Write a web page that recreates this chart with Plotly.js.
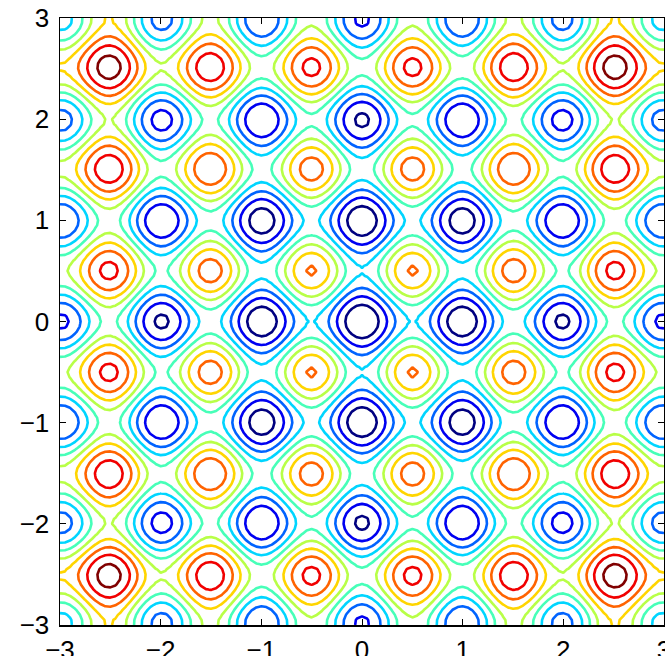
<!DOCTYPE html>
<html>
<head>
<meta charset="utf-8">
<script src="https://cdn.plot.ly/plotly-3.0.1.min.js"></script>
<style>
html,body{margin:0;padding:0;background:#fff;}
#chart{width:665px;height:656px;}
</style>
</head>
<body>
<div id="chart"></div>
<script>
// Grid: starts at -3, step 0.05 along both axes (121 samples)
var gridStart = -3, gridStep = 0.05;
// Separable surface: value contributed by each axis at those samples (t = -3 ... 3)
var axisProfile = [
  9.000,9.192,10.320,12.245,14.750,17.563,20.380,22.900,24.850,26.013,
  26.250,25.513,23.850,21.400,18.380,15.063,11.750,8.745,6.320,4.692,
  4.000,4.292,5.520,7.545,10.150,13.063,15.980,18.600,20.650,21.913,
  22.250,21.613,20.050,17.700,14.780,11.563,8.350,5.445,3.120,1.592,
  1.000,1.392,2.720,4.845,7.550,10.563,13.580,16.300,18.450,19.813,
  20.250,19.713,18.250,16.000,13.180,10.063,6.950,4.145,1.920,0.492,
  0.000,
  0.492,1.920,4.145,6.950,10.063,13.180,16.000,18.250,19.713,20.250,
  19.813,18.450,16.300,13.580,10.563,7.550,4.845,2.720,1.392,1.000,
  1.592,3.120,5.445,8.350,11.563,14.780,17.700,20.050,21.613,22.250,
  21.913,20.650,18.600,15.980,13.063,10.150,7.545,5.520,4.292,4.000,
  4.692,6.320,8.745,11.750,15.063,18.380,21.400,23.850,25.513,26.250,
  26.013,24.850,22.900,20.380,17.563,14.750,12.245,10.320,9.192,9.000
];
var levelStart = 5, levelEnd = 50, levelStep = 5;
var tickVals = [-3,-2,-1,0,1,2,3];
var tickText = ['\u22123','\u22122','\u22121','0','1','2','3'];

// build table z[row=y][col=x]
var z = axisProfile.map(function(py){ return axisProfile.map(function(px){ return px + py; }); });

var jet = [
  [0,'rgb(0,0,128)'],[0.125,'rgb(0,0,255)'],[0.375,'rgb(0,255,255)'],
  [0.625,'rgb(255,255,0)'],[0.875,'rgb(255,0,0)'],[1,'rgb(128,0,0)']
];

var trace = {
  type:'contour', x0:gridStart, dx:gridStep, y0:gridStart, dy:gridStep, z:z,
  zauto:false, zmin:levelStart, zmax:levelEnd,
  autocontour:false,
  contours:{coloring:'lines', start:levelStart, end:levelEnd, size:levelStep, showlabels:false},
  line:{width:2.6, smoothing:0},
  colorscale:jet, showscale:false, hoverinfo:'skip'
};

var axisCommon = {
  range:[-3,3], tickmode:'array', tickvals:tickVals, ticktext:tickText,
  ticks:'inside', ticklen:6, tickwidth:1, tickcolor:'#000',
  showline:true, linecolor:'#000', linewidth:1.5, mirror:'ticks',
  showgrid:false, zeroline:false, ticklabeloverflow:'allow',
  tickfont:{family:'Liberation Sans, Arial, sans-serif', size:26, color:'#000'}
};

var layout = {
  width:665, height:656,
  margin:{l:60, r:1, t:18, b:31, pad:0},
  paper_bgcolor:'#fff', plot_bgcolor:'#fff',
  showlegend:false,
  xaxis:Object.assign({}, axisCommon, {ticklabelstandoff:1}),
  yaxis:Object.assign({}, axisCommon, {ticklabelstandoff:4})
};

Plotly.newPlot('chart',[trace],layout,{staticPlot:true, displayModeBar:false});
</script>
</body>
</html>
